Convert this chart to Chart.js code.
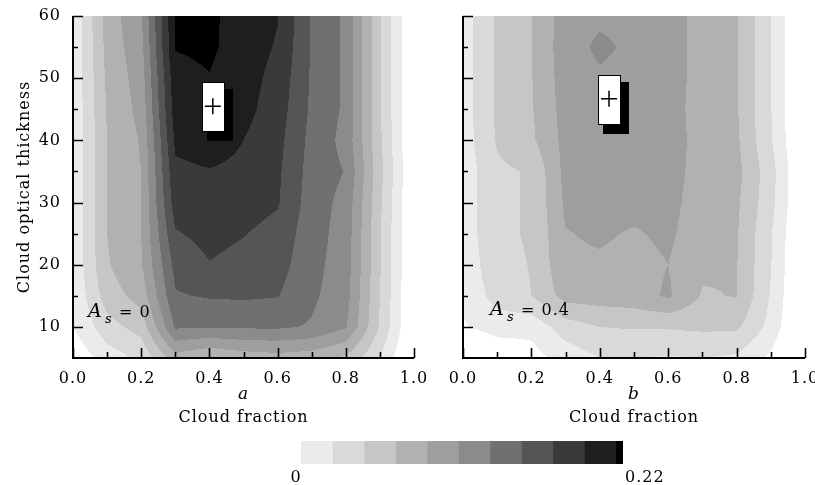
<!DOCTYPE html>
<html>
<head>
<meta charset="utf-8">
<script src="https://cdn.jsdelivr.net/npm/chart.js@4/dist/chart.umd.min.js"></script>
<style>
  body { margin: 0; background: #fff; }
  #wrap { position: relative; width: 815px; height: 485px; overflow: hidden; }
  canvas { position: absolute; }
</style>
</head>
<body>
<div id="wrap">
  <canvas id="left" width="440" height="430" style="left:0;top:0"></canvas>
  <canvas id="right" width="425" height="430" style="left:390px;top:0"></canvas>
  <canvas id="cbar" width="420" height="60" style="left:260px;top:425px"></canvas>
</div>
<script>
// grid of the two maps: columns = cloud fraction, rows = optical thickness (top row first)
const cloudFraction = [0, 0.1, 0.2, 0.3, 0.4, 0.5, 0.6, 0.7, 0.8, 0.9, 1.0];
const opticalThickness = [60, 55, 50, 45, 40, 35, 30, 25, 20, 15, 10, 5];

// panel a, surface albedo 0
const valuesA = [
    [0.004, 0.075, 0.108, 0.221, 0.224, 0.211, 0.199, 0.152, 0.128, 0.046, -0.026],
    [0.004, 0.073, 0.103, 0.221, 0.224, 0.209, 0.196, 0.152, 0.128, 0.046, -0.026],
    [0.004, 0.070, 0.099, 0.213, 0.219, 0.207, 0.191, 0.151, 0.128, 0.046, -0.026],
    [0.004, 0.068, 0.095, 0.209, 0.213, 0.205, 0.187, 0.150, 0.128, 0.046, -0.026],
    [0.004, 0.066, 0.090, 0.202, 0.207, 0.198, 0.183, 0.147, 0.125, 0.048, -0.026],
    [0.004, 0.066, 0.088, 0.194, 0.197, 0.194, 0.180, 0.145, 0.131, 0.051, -0.024],
    [0.004, 0.066, 0.088, 0.187, 0.189, 0.185, 0.178, 0.143, 0.125, 0.048, -0.026],
    [0.004, 0.066, 0.088, 0.174, 0.183, 0.177, 0.169, 0.141, 0.123, 0.046, -0.026],
    [0.004, 0.064, 0.086, 0.161, 0.175, 0.169, 0.163, 0.139, 0.121, 0.046, -0.026],
    [0.002, 0.055, 0.075, 0.152, 0.156, 0.157, 0.155, 0.136, 0.119, 0.044, -0.026],
    [0.000, 0.035, 0.053, 0.135, 0.134, 0.135, 0.135, 0.130, 0.112, 0.042, -0.026],
    [-0.018, 0.011, 0.026, 0.079, 0.066, 0.075, 0.079, 0.075, 0.062, 0.022, -0.033]
];

// panel b, surface albedo 0.4
const valuesB = [
    [0.011, 0.048, 0.065, 0.099, 0.106, 0.103, 0.101, 0.077, 0.068, 0.023, -0.033],
    [0.011, 0.048, 0.065, 0.101, 0.114, 0.106, 0.101, 0.077, 0.068, 0.023, -0.033],
    [0.011, 0.048, 0.065, 0.099, 0.107, 0.103, 0.101, 0.077, 0.068, 0.023, -0.033],
    [0.011, 0.048, 0.064, 0.097, 0.103, 0.101, 0.099, 0.077, 0.068, 0.023, -0.033],
    [0.011, 0.046, 0.062, 0.095, 0.101, 0.099, 0.099, 0.079, 0.070, 0.024, -0.031],
    [0.009, 0.040, 0.046, 0.095, 0.099, 0.097, 0.097, 0.079, 0.073, 0.031, -0.029],
    [0.009, 0.040, 0.046, 0.092, 0.097, 0.095, 0.095, 0.077, 0.070, 0.029, -0.029],
    [0.009, 0.040, 0.046, 0.087, 0.091, 0.086, 0.092, 0.075, 0.068, 0.024, -0.031],
    [0.007, 0.037, 0.045, 0.084, 0.085, 0.081, 0.088, 0.070, 0.067, 0.023, -0.033],
    [0.004, 0.031, 0.044, 0.075, 0.077, 0.079, 0.091, 0.064, 0.067, 0.020, -0.033],
    [-0.002, 0.009, 0.007, 0.033, 0.044, 0.046, 0.046, 0.048, 0.048, 0.015, -0.035],
    [-0.033, -0.018, -0.009, 0.009, 0.022, 0.022, 0.020, 0.022, 0.018, -0.004, -0.044]
];

const maxPointA = [0.41, 45.5];
const maxPointB = [0.427, 46.7];

const contourLevels = [0, 0.022, 0.044, 0.066, 0.088, 0.11, 0.132, 0.154, 0.176, 0.198, 0.22];
const contourColors = ['#ebebeb', '#d9d9d9', '#c6c6c6', '#b1b1b1', '#9e9e9e', '#8b8b8b',
    '#707070', '#555555', '#3a3a3a', '#1e1e1e', '#000000'];
const colorbarEnd = 0.225;

const xTicks = [0, 0.2, 0.4, 0.6, 0.8, 1.0];
const xTickLabels = ['0.0', '0.2', '0.4', '0.6', '0.8', '1.0'];
const xMinorTicks = [0.1, 0.3, 0.5, 0.7, 0.9];
const yTicks = [10, 20, 30, 40, 50, 60];
const yMinorTicks = [15, 25, 35, 45, 55];
const cbarTickLabels = ['0', '0.22'];

const serif = '"DejaVu Serif", "Liberation Serif", serif';
Chart.defaults.font.family = serif;
Chart.defaults.font.size = 16;
Chart.defaults.color = '#000';

let rgb = contourColors.map(c => [1, 3, 5].map(i => parseInt(c.substr(i, 2), 16)));

function sample(grid, fx, ft) {
    let i = 0;
    while (i < cloudFraction.length - 2 && fx > cloudFraction[i + 1]) i++;
    let j = 0;
    while (j < opticalThickness.length - 2 && ft < opticalThickness[j + 1]) j++;
    let u = (fx - cloudFraction[i]) / (cloudFraction[i + 1] - cloudFraction[i]);
    let w = (ft - opticalThickness[j]) / (opticalThickness[j + 1] - opticalThickness[j]);
    return grid[j][i] * (1 - u) * (1 - w) + grid[j][i + 1] * u * (1 - w)
        + grid[j + 1][i] * (1 - u) * w + grid[j + 1][i + 1] * u * w;
}

function bandOf(v) {
    if (v < contourLevels[0]) return -1;
    let k = 0;
    while (k < contourLevels.length - 1 && v >= contourLevels[k + 1]) k++;
    return k;
}

function panelPlugin(grid, note, letter, showTitle) {
    return {
        id: 'panel',
        beforeDraw(chart) {
            chart.ctx.letterSpacing = '1px';
        },
        beforeDatasetsDraw(chart) {
            let ctx = chart.ctx;
            let a = chart.chartArea;
            let x = chart.scales.x, y = chart.scales.y;
            let w = Math.round(a.right - a.left), h = Math.round(a.bottom - a.top);
            let img = ctx.createImageData(w, h);
            for (let py = 0; py < h; py++) {
                let ft = y.getValueForPixel(a.top + py + 0.5);
                for (let px = 0; px < w; px++) {
                    let fx = x.getValueForPixel(a.left + px + 0.5);
                    let k = bandOf(sample(grid, fx, ft));
                    if (k < 0) continue;
                    let o = (py * w + px) * 4;
                    img.data[o] = rgb[k][0];
                    img.data[o + 1] = rgb[k][1];
                    img.data[o + 2] = rgb[k][2];
                    img.data[o + 3] = 255;
                }
            }
            let off = document.createElement('canvas');
            off.width = w;
            off.height = h;
            off.getContext('2d').putImageData(img, 0, 0);
            ctx.drawImage(off, Math.round(a.left), Math.round(a.top));

            // white label box with drop shadow behind the maximum marker
            let pt = chart.data.datasets[0].data[0];
            let cx = Math.round(x.getPixelForValue(pt.x)), cy = Math.round(y.getPixelForValue(pt.y));
            ctx.save();
            ctx.fillStyle = '#000';
            ctx.fillRect(cx - 6, cy - 17, 26, 52);
            ctx.fillStyle = '#fff';
            ctx.fillRect(cx - 11, cy - 24, 23, 50);
            ctx.strokeStyle = '#000';
            ctx.lineWidth = 1;
            ctx.strokeRect(cx - 10.5, cy - 23.5, 22, 49);
            ctx.restore();
        },
        afterDraw(chart) {
            let ctx = chart.ctx;
            let a = chart.chartArea;
            let x = chart.scales.x, y = chart.scales.y;
            ctx.save();
            ctx.strokeStyle = '#000';
            ctx.lineWidth = 2;
            ctx.beginPath();
            ctx.moveTo(a.left, a.top);
            ctx.lineTo(a.left, a.bottom);
            ctx.lineTo(a.right, a.bottom);
            ctx.stroke();
            ctx.lineWidth = 1.6;
            ctx.beginPath();
            xTicks.concat(xMinorTicks).forEach((v, i) => {
                let px = Math.round(x.getPixelForValue(v)) + 0.5;
                ctx.moveTo(px, a.bottom);
                ctx.lineTo(px, a.bottom - (i < xTicks.length ? 10 : 6));
            });
            yTicks.concat(yMinorTicks).forEach((v, i) => {
                let py = Math.round(y.getPixelForValue(v)) + 0.5;
                ctx.moveTo(a.left, py);
                ctx.lineTo(a.left + (i < yTicks.length ? 10 : 5), py);
            });
            ctx.stroke();

            // albedo note
            ctx.fillStyle = '#000';
            ctx.textAlign = 'left';
            ctx.textBaseline = 'alphabetic';
            let nx = x.getPixelForValue(note.x), ny = y.getPixelForValue(note.y);
            ctx.font = 'italic 19px ' + serif;
            ctx.fillText('A', nx, ny);
            ctx.font = 'italic 13px ' + serif;
            ctx.fillText('s', nx + 17, ny + 6);
            ctx.font = '16px ' + serif;
            ctx.fillText('= ' + note.value, nx + 31, ny);

            // panel letter and axis titles
            let mid = (a.left + a.right) / 2;
            ctx.textAlign = 'center';
            ctx.font = 'italic 17px ' + serif;
            ctx.fillText(letter, mid, a.bottom + 41);
            ctx.font = '16px ' + serif;
            ctx.fillText('Cloud fraction', mid, a.bottom + 64);
            if (showTitle) {
                ctx.translate(29, (a.top + a.bottom) / 2);
                ctx.rotate(-Math.PI / 2);
                ctx.fillText('Cloud optical thickness', 0, 0);
            }
            ctx.restore();
        }
    };
}

function makePanel(id, grid, maxPoint, note, letter, isLeft) {
    return new Chart(document.getElementById(id), {
        type: 'scatter',
        data: {
            datasets: [{
                data: [{ x: maxPoint[0], y: maxPoint[1] }],
                pointStyle: 'cross',
                radius: 8,
                borderWidth: 1.5,
                borderColor: '#000',
                backgroundColor: '#000'
            }]
        },
        options: {
            responsive: false,
            animation: false,
            devicePixelRatio: 1,
            layout: { padding: { left: 0, right: isLeft ? 26 : 10, top: 16, bottom: 41 } },
            plugins: { legend: { display: false }, tooltip: { enabled: false } },
            scales: {
                x: {
                    type: 'linear', min: 0, max: 1,
                    grid: { display: false, drawTicks: false },
                    border: { display: false },
                    ticks: { padding: 11, autoSkip: false, maxRotation: 0, callback: (v, i) => xTickLabels[i] },
                    afterBuildTicks: s => { s.ticks = xTicks.map(v => ({ value: v })); },
                    afterFit: s => { s.height = 31; s.paddingLeft = 0; s.paddingRight = 0; }
                },
                y: {
                    type: 'linear', min: 5, max: 60,
                    grid: { display: false, drawTicks: false },
                    border: { display: false },
                    ticks: { display: isLeft, padding: 12 },
                    afterBuildTicks: s => { s.ticks = yTicks.map(v => ({ value: v })); },
                    afterFit: s => { s.width = 73; s.paddingTop = 0; s.paddingBottom = 0; }
                }
            }
        },
        plugins: [panelPlugin(grid, note, letter, isLeft)]
    });
}

makePanel('left', valuesA, maxPointA, { x: 0.044, y: 11.6, value: '0' }, 'a', true);
makePanel('right', valuesB, maxPointB, { x: 0.079, y: 11.9, value: '0.4' }, 'b', false);

// colour key
let cbarSets = contourColors.map((c, k) => ({
    data: [[contourLevels[k], k + 1 < contourLevels.length ? contourLevels[k + 1] : colorbarEnd]],
    backgroundColor: c,
    borderWidth: 0
}));

new Chart(document.getElementById('cbar'), {
    type: 'bar',
    data: { labels: [''], datasets: cbarSets },
    options: {
        indexAxis: 'y',
        responsive: false,
        animation: false,
        devicePixelRatio: 1,
        grouped: false,
        barPercentage: 1,
        categoryPercentage: 1,
        layout: { padding: { left: 41, right: 57, top: 16, bottom: 21 } },
        plugins: { legend: { display: false }, tooltip: { enabled: false } },
        scales: {
            x: { type: 'linear', min: 0, max: colorbarEnd, display: false },
            y: { display: false }
        }
    },
    plugins: [{
        id: 'cbarLabels',
        afterDraw(chart) {
            let ctx = chart.ctx;
            let x = chart.scales.x;
            let base = chart.chartArea.bottom + 18;
            ctx.save();
            ctx.letterSpacing = '1px';
            ctx.fillStyle = '#000';
            ctx.font = '16px ' + serif;
            ctx.textBaseline = 'alphabetic';
            ctx.textAlign = 'center';
            ctx.fillText(cbarTickLabels[0], x.getPixelForValue(0) - 5, base);
            ctx.textAlign = 'left';
            ctx.fillText(cbarTickLabels[1], x.getPixelForValue(colorbarEnd) + 2, base);
            ctx.restore();
        }
    }]
});
</script>
</body>
</html>
